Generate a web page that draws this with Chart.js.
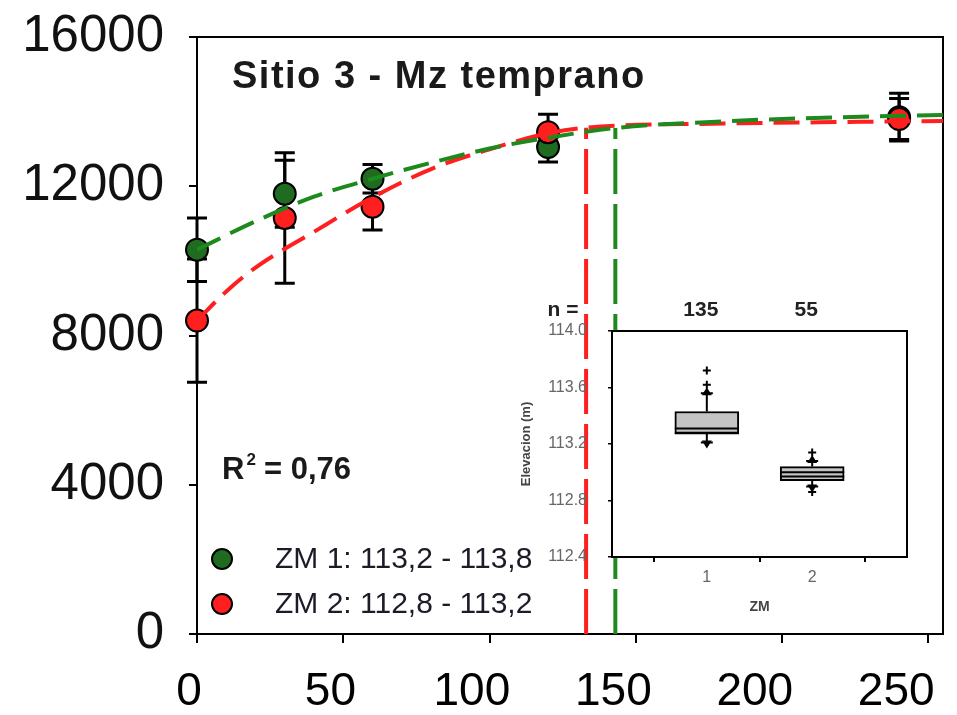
<!DOCTYPE html>
<html>
<head>
<meta charset="utf-8">
<script src="https://cdn.jsdelivr.net/npm/chart.js@4"></script>
<style>
  html, body { margin: 0; padding: 0; background: #fff; }
  #wrap { position: relative; width: 957px; height: 715px; }
  #main { position: absolute; left: 0; top: 0; }
  #inset { position: absolute; left: 500px; top: 290px; }
</style>
</head>
<body>
<div id="wrap">
  <canvas id="main" width="957" height="715"></canvas>
  <canvas id="inset" width="430" height="340"></canvas>
</div>
<script>
// main chart data
const days = [0, 30, 60, 120, 240]
const zm1Yield = [10300, 11800, 12200, 13050, 13850]
const zm1Err = [850, 900, 380, 400, 640]
const zm2Yield = [8400, 11150, 11450, 13450, 13800]
const zm2Err = [1650, 1750, 620, 480, 550]

// fitted curves
const fitDays1 = [0, 20, 40, 60, 80, 100, 120, 143, 180, 220, 255]
const fitYield1 = [10300, 11060, 11720, 12200, 12630, 13010, 13300, 13560, 13740, 13850, 13910]
const fitDays2 = [0, 10, 20, 40, 60, 80, 100, 120, 133, 180, 220, 255]
const fitYield2 = [8400, 9180, 9820, 10780, 11700, 12460, 12990, 13420, 13570, 13680, 13720, 13750]

const critDays = [143, 133]
const critYield = [13560, 13570]

const seriesNames = ['ZM 1: 113,2 - 113,8', 'ZM 2: 112,8 - 113,2']
const xTicks = [0, 50, 100, 150, 200, 250]
const yTicks = [0, 4000, 8000, 12000, 16000]
const titleText = 'Sitio 3 - Mz temprano'
const r2Value = '0,76'

// inset box plot data
const zones = [1, 2]
const zoneN = ['135', '55']
const boxLow = [113.21, 112.90]
const boxQ1 = [113.27, 112.94]
const boxMean = [113.28, 112.97]
const boxMedian = [113.31, 113.00]
const boxQ3 = [113.43, 113.04]
const boxHigh = [113.56, 113.08]
const outliers = [[113.62, 113.72], [113.14, 112.86]]
const elevTicks = [112.4, 112.8, 113.2, 113.6, 114.0]

const SANS = '"Liberation Sans", Arial, sans-serif'
const GREEN = '#1e8a1e'
const GREEN_PT = '#1f6b1f'
const RED = '#ff1f1f'

const mainDeco = {
    id: 'mainDeco',
    beforeDatasetsDraw(chart) {
        const { ctx, chartArea: a, scales: { x, y } } = chart
        ctx.save()
        ctx.strokeStyle = '#000'
        ctx.lineWidth = 2
        ctx.strokeRect(a.left, a.top, a.right - a.left, a.bottom - a.top)
        // error bars
        ctx.lineWidth = 3
        ;[[zm1Yield, zm1Err], [zm2Yield, zm2Err]].forEach(([m, e]) => {
            days.forEach((d, i) => {
                const px = x.getPixelForValue(d)
                const top = y.getPixelForValue(m[i] + e[i])
                const bot = y.getPixelForValue(m[i] - e[i])
                ctx.beginPath()
                ctx.moveTo(px, top); ctx.lineTo(px, bot)
                ctx.moveTo(px - 10, top); ctx.lineTo(px + 10, top)
                ctx.moveTo(px - 10, bot); ctx.lineTo(px + 10, bot)
                ctx.stroke()
            })
        })
        ctx.restore()
    },
    afterDraw(chart) {
        const { ctx, chartArea: a, scales: { x } } = chart
        ctx.save()
        // title
        ctx.fillStyle = '#1a1a1a'
        ctx.textAlign = 'left'
        ctx.textBaseline = 'alphabetic'
        ctx.font = 'bold 38px ' + SANS
        ctx.letterSpacing = '1.5px'
        ctx.fillText(titleText, 232, 88)
        ctx.letterSpacing = '0px'
        ctx.textBaseline = 'middle'
        // R2
        ctx.font = 'bold 31px ' + SANS
        ctx.fillText('R', 222, 470)
        const w = ctx.measureText('R').width
        ctx.font = 'bold 17px ' + SANS
        ctx.fillText('2', 222 + w + 2, 460)
        ctx.font = 'bold 31px ' + SANS
        ctx.fillText(' = ' + r2Value, 222 + w + 11, 470)
        // legend
        const cols = [GREEN_PT, RED]
        const ys = [559, 604]
        seriesNames.forEach((n, i) => {
            ctx.beginPath()
            ctx.arc(222, ys[i], 10, 0, Math.PI * 2)
            ctx.fillStyle = cols[i]
            ctx.fill()
            ctx.lineWidth = 2
            ctx.strokeStyle = '#000'
            ctx.stroke()
            ctx.fillStyle = '#1c1c28'
            ctx.font = '30px ' + SANS
            ctx.fillText(n, 275, ys[i] + 1)
        })
        // x tick labels
        ctx.font = '46px ' + SANS
        ctx.fillStyle = '#000'
        ctx.textAlign = 'center'
        xTicks.forEach(v => {
            const px = x.getPixelForValue(v)
            ctx.fillText(String(v), px - 8 - 0.033 * (px - a.left), 692)
        })
        ctx.restore()
    }
}

new Chart(document.getElementById('main'), {
    type: 'scatter',
    data: {
        datasets: [
            {
                data: fitDays1.map((d, i) => ({ x: d, y: fitYield1[i] })),
                showLine: true, borderColor: GREEN, borderWidth: 4, borderDash: [26, 11],
                pointRadius: 0, cubicInterpolationMode: 'monotone', order: 1
            },
            {
                data: fitDays2.map((d, i) => ({ x: d, y: fitYield2[i] })),
                showLine: true, borderColor: RED, borderWidth: 4, borderDash: [26, 11],
                pointRadius: 0, cubicInterpolationMode: 'monotone', order: 1
            },
            {
                data: [{ x: critDays[0], y: 0 }, { x: critDays[0], y: critYield[0] }],
                showLine: true, borderColor: GREEN, borderWidth: 4, borderDash: [45, 10],
                pointRadius: 0, order: 2
            },
            {
                data: [{ x: critDays[1], y: 0 }, { x: critDays[1], y: critYield[1] }],
                showLine: true, borderColor: RED, borderWidth: 4, borderDash: [45, 10],
                pointRadius: 0, order: 2
            },
            {
                data: days.map((d, i) => ({ x: d, y: zm1Yield[i] })),
                pointRadius: 11, backgroundColor: GREEN_PT, borderColor: '#000', borderWidth: 2,
                clip: false, order: 5
            },
            {
                data: days.map((d, i) => ({ x: d, y: zm2Yield[i] })),
                pointRadius: 11, backgroundColor: RED, borderColor: '#000', borderWidth: 2,
                clip: false, order: 4
            }
        ]
    },
    options: {
        responsive: false,
        animation: false,
        devicePixelRatio: 1,
        layout: { padding: { left: 0, top: 37, right: 14, bottom: 0 } },
        plugins: { legend: { display: false }, tooltip: { enabled: false } },
        scales: {
            x: {
                type: 'linear', min: 0, max: 255,
                afterBuildTicks: s => { s.ticks = xTicks.map(v => ({ value: v })) },
                afterFit: s => { s.height = 81; s.paddingLeft = 0; s.paddingRight = 0 },
                ticks: { display: false },
                grid: { drawOnChartArea: false, drawTicks: true, tickLength: 9, color: '#000', lineWidth: 2 },
                border: { display: true, color: '#000', width: 2 }
            },
            y: {
                min: 0, max: 16000,
                afterBuildTicks: s => { s.ticks = yTicks.map(v => ({ value: v })) },
                afterFit: s => { s.width = 197; s.paddingTop = 0; s.paddingBottom = 0 },
                ticks: { font: { family: SANS, size: 51 }, color: '#111', padding: 25, callback: v => String(v) },
                grid: { drawOnChartArea: false, drawTicks: true, tickLength: 8, color: '#000', lineWidth: 2 },
                border: { display: true, color: '#000', width: 2 }
            }
        }
    },
    plugins: [mainDeco]
})

const insetDeco = {
    id: 'insetDeco',
    beforeDraw(chart) {
        const { ctx, chartArea: a } = chart
        ctx.save()
        ctx.fillStyle = '#fff'
        ctx.fillRect(a.left, a.top, a.right - a.left, a.bottom - a.top)
        ctx.restore()
    },
    beforeDatasetsDraw(chart) {
        const { ctx, scales: { x, y } } = chart
        ctx.save()
        ctx.strokeStyle = '#000'
        ctx.fillStyle = '#000'
        ctx.lineWidth = 2
        zones.forEach((z, i) => {
            const px = x.getPixelForValue(z)
            const hi = y.getPixelForValue(boxHigh[i])
            const lo = y.getPixelForValue(boxLow[i])
            ctx.beginPath()
            ctx.moveTo(px, y.getPixelForValue(boxQ3[i])); ctx.lineTo(px, hi)
            ctx.moveTo(px, y.getPixelForValue(boxQ1[i])); ctx.lineTo(px, lo)
            ctx.moveTo(px - 6, hi); ctx.lineTo(px + 6, hi)
            ctx.moveTo(px - 6, lo); ctx.lineTo(px + 6, lo)
            ctx.stroke()
            ctx.beginPath()
            ctx.moveTo(px - 5, hi + 2); ctx.lineTo(px + 5, hi + 2); ctx.lineTo(px, hi - 6); ctx.closePath()
            ctx.moveTo(px - 5, lo - 2); ctx.lineTo(px + 5, lo - 2); ctx.lineTo(px, lo + 6); ctx.closePath()
            ctx.fill()
        })
        ctx.restore()
    },
    afterDatasetsDraw(chart) {
        const { ctx, chartArea: a, scales: { x, y } } = chart
        ctx.save()
        ctx.strokeStyle = '#000'
        ctx.lineWidth = 2
        zones.forEach((z, i) => {
            const px = x.getPixelForValue(z)
            ;[boxMedian[i], boxMean[i]].forEach(v => {
                const py = y.getPixelForValue(v)
                ctx.beginPath()
                ctx.moveTo(px - 32, py); ctx.lineTo(px + 32, py)
                ctx.stroke()
            })
        })
        ctx.strokeRect(a.left, a.top, a.right - a.left, a.bottom - a.top)
        // n labels
        ctx.fillStyle = '#222'
        ctx.font = 'bold 21px ' + SANS
        ctx.textBaseline = 'middle'
        ctx.textAlign = 'center'
        ctx.fillText('n =', 63, 20)
        zones.forEach((z, i) => {
            ctx.fillText(zoneN[i], x.getPixelForValue(z) - 6, 20)
        })
        ctx.restore()
    }
}

new Chart(document.getElementById('inset'), {
    type: 'bar',
    data: {
        datasets: [
            {
                type: 'bar',
                data: zones.map((z, i) => ({ x: z, y: [boxQ1[i], boxQ3[i]] })),
                backgroundColor: '#c4c4c4', borderColor: '#000', borderWidth: 2,
                borderSkipped: false, barThickness: 64, order: 2
            },
            {
                type: 'scatter',
                data: zones.flatMap((z, i) => outliers[i].map(v => ({ x: z, y: v }))),
                pointStyle: 'cross', pointRadius: 4, borderColor: '#000', borderWidth: 2, order: 1
            }
        ]
    },
    options: {
        responsive: false,
        animation: false,
        devicePixelRatio: 1,
        layout: { padding: { left: 0, top: 41, right: 23, bottom: 0 } },
        plugins: { legend: { display: false }, tooltip: { enabled: false } },
        scales: {
            x: {
                type: 'linear', min: 0.1, max: 2.9, offset: false,
                afterBuildTicks: s => { s.ticks = zones.map(v => ({ value: v })) },
                afterFit: s => { s.height = 73; s.paddingLeft = 0; s.paddingRight = 0 },
                ticks: { font: { family: SANS, size: 16 }, color: '#666', padding: 6 },
                grid: { drawOnChartArea: false, drawTicks: true, tickLength: 5, color: '#000', lineWidth: 2 },
                border: { display: false },
                title: { display: true, text: 'ZM', font: { family: SANS, size: 14, weight: 'bold' }, color: '#444', padding: { top: 0, bottom: 14 } }
            },
            y: {
                min: 112.4, max: 114.0,
                afterBuildTicks: s => { s.ticks = elevTicks.map(v => ({ value: v })) },
                afterFit: s => { s.width = 112; s.paddingTop = 0; s.paddingBottom = 0 },
                ticks: { font: { family: SANS, size: 16 }, color: '#666', padding: 21, callback: v => v.toFixed(1) },
                grid: { drawOnChartArea: false, drawTicks: true, tickLength: 4, color: '#000', lineWidth: 1.5 },
                border: { display: false },
                title: { display: true, text: 'Elevacion (m)', font: { family: SANS, size: 13, weight: 'bold' }, color: '#444', padding: { top: 19, bottom: 0 } }
            }
        }
    },
    plugins: [insetDeco]
})
</script>
</body>
</html>
